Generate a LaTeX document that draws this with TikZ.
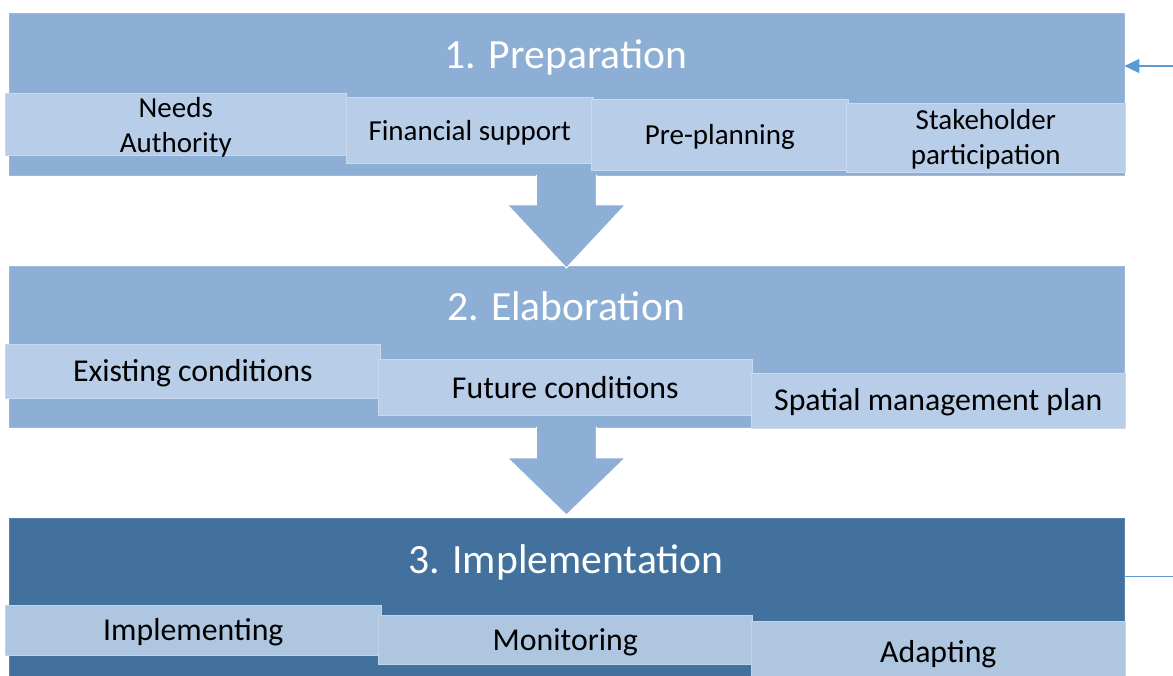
\documentclass[tikz,border=0pt]{standalone}
\usepackage{fontspec}
\setmainfont{Carlito}
\usetikzlibrary{arrows.meta,calc}
\definecolor{bandlight}{RGB}{142,175,213}
\definecolor{banddark}{RGB}{66,113,158}
\definecolor{tilelight}{RGB}{184,205,232}
\definecolor{tiledark}{RGB}{175,198,225}
\definecolor{linkblue}{RGB}{91,155,213}
\begin{document}
\begin{tikzpicture}[x=1pt,y=-1pt,
  band/.style={rectangle, inner sep=0pt, anchor=north west,
    fill=#1, draw=#1!88!white, line width=0.8pt, minimum width=1115pt},
  phase/.style={anchor=base, text=white, inner sep=0pt,
    font=\fontsize{41.6}{50}\selectfont},
  tile/.style={rectangle, inner sep=0pt, anchor=north west,
    fill=#1, draw=#1!75!white, line width=0.6pt},
  steptext/.style={inner sep=0pt, align=center, text=black,
    font=\fontsize{#1}{35}\selectfont},
  steptext/.default=29,
  blockarrow/.style={fill=bandlight, draw=white, line width=1pt},
  link/.style={draw=linkblue, line width=1.3pt}
]
\useasboundingbox (0,0) rectangle (1173,675);
\clip (0,0) rectangle (1173,675);

% phase bands
\node[band=bandlight, minimum height=162pt] (band1) at (8.5,13) {};
\node[band=bandlight, minimum height=161pt] (band2) at (8.5,266) {};
\node[band=banddark,  minimum height=175pt] (band3) at (8.5,518) {};

% block arrows between the phases
\path[blockarrow]
  ($(band1.south)+(-30,-1)$) -- ($(band1.south)+(-30,29)$)
  -- ($(band1.south)+(-59,29)$) -- ($(band2.north)+(0,2)$)
  -- ($(band1.south)+(59,29)$) -- ($(band1.south)+(30,29)$)
  -- ($(band1.south)+(30,-1)$);
\path[blockarrow]
  ($(band2.south)+(-30,-1)$) -- ($(band2.south)+(-30,30)$)
  -- ($(band2.south)+(-59,30)$) -- ($(band3.north)+(0,-3)$)
  -- ($(band2.south)+(59,30)$) -- ($(band2.south)+(30,30)$)
  -- ($(band2.south)+(30,-1)$);

% phase titles
\node[phase] (t1) at (566,68)  {1. Preparation};
\node[phase] (t2) at (566,320) {2. Elaboration};
\node[phase] (t3) at (566,573) {3. Implementation};

% steps of phase 1
\node[tile=tilelight, minimum width=341pt, minimum height=62pt] (needs) at (5,93) {};
\node[tile=tilelight, minimum width=247pt, minimum height=66pt] (fin) at (346,97) {};
\node[tile=tilelight, minimum width=257pt, minimum height=71pt] (pre) at (591,99) {};
\node[tile=tilelight, minimum width=279pt, minimum height=69pt] (stake) at (846,103) {};
\node[steptext] (needs-t) at ([yshift=-2.5pt]needs.center) {Needs\\Authority};
\node[steptext] (fin-t)   at ([yshift=-2pt]fin.center)     {Financial support};
\node[steptext] (pre-t)   at ([yshift=-2pt]pre.center)     {Pre-planning};
\node[steptext] (stake-t) at ([yshift=-1.5pt]stake.center) {Stakeholder\\participation};

% steps of phase 2
\node[tile=tilelight, minimum width=375pt, minimum height=54pt] (exist) at (5,344) {};
\node[tile=tilelight, minimum width=374pt, minimum height=56pt] (future) at (378,359) {};
\node[tile=tilelight, minimum width=374pt, minimum height=55pt] (spatial) at (751,373) {};
\node[steptext=31.8] (exist-t)   at ([yshift=-2pt]exist.center)   {Existing conditions};
\node[steptext=31.8] (future-t)  at ([yshift=0pt]future.center)   {Future conditions};
\node[steptext=31.8] (spatial-t) at ([yshift=-1pt]spatial.center) {Spatial management plan};

% steps of phase 3
\node[tile=tiledark, minimum width=376pt, minimum height=50pt] (impl) at (5,605) {};
\node[tile=tiledark, minimum width=374pt, minimum height=49pt] (monitor) at (378,615) {};
\node[tile=tiledark, minimum width=374pt, minimum height=62pt] (adapt) at (751,621) {};
\node[steptext=31.8] (impl-t)    at ([yshift=-2pt]impl.center)    {Implementing};
\node[steptext=31.8] (monitor-t) at ([yshift=-2.5pt]monitor.center) {Monitoring};
\node[steptext=31.8] (adapt-t)   at ([yshift=-2pt]adapt.center)   {Adapting};

% feedback links on the right
\coordinate (in1) at (1173,66);
\coordinate (out3) at (1173,576);
\draw[link, -{Triangle[length=15pt,width=14pt]}] (in1) -- (band1.east |- in1);
\draw[link, line width=1pt] (band3.east |- out3) -- (out3);
\end{tikzpicture}
\end{document}
